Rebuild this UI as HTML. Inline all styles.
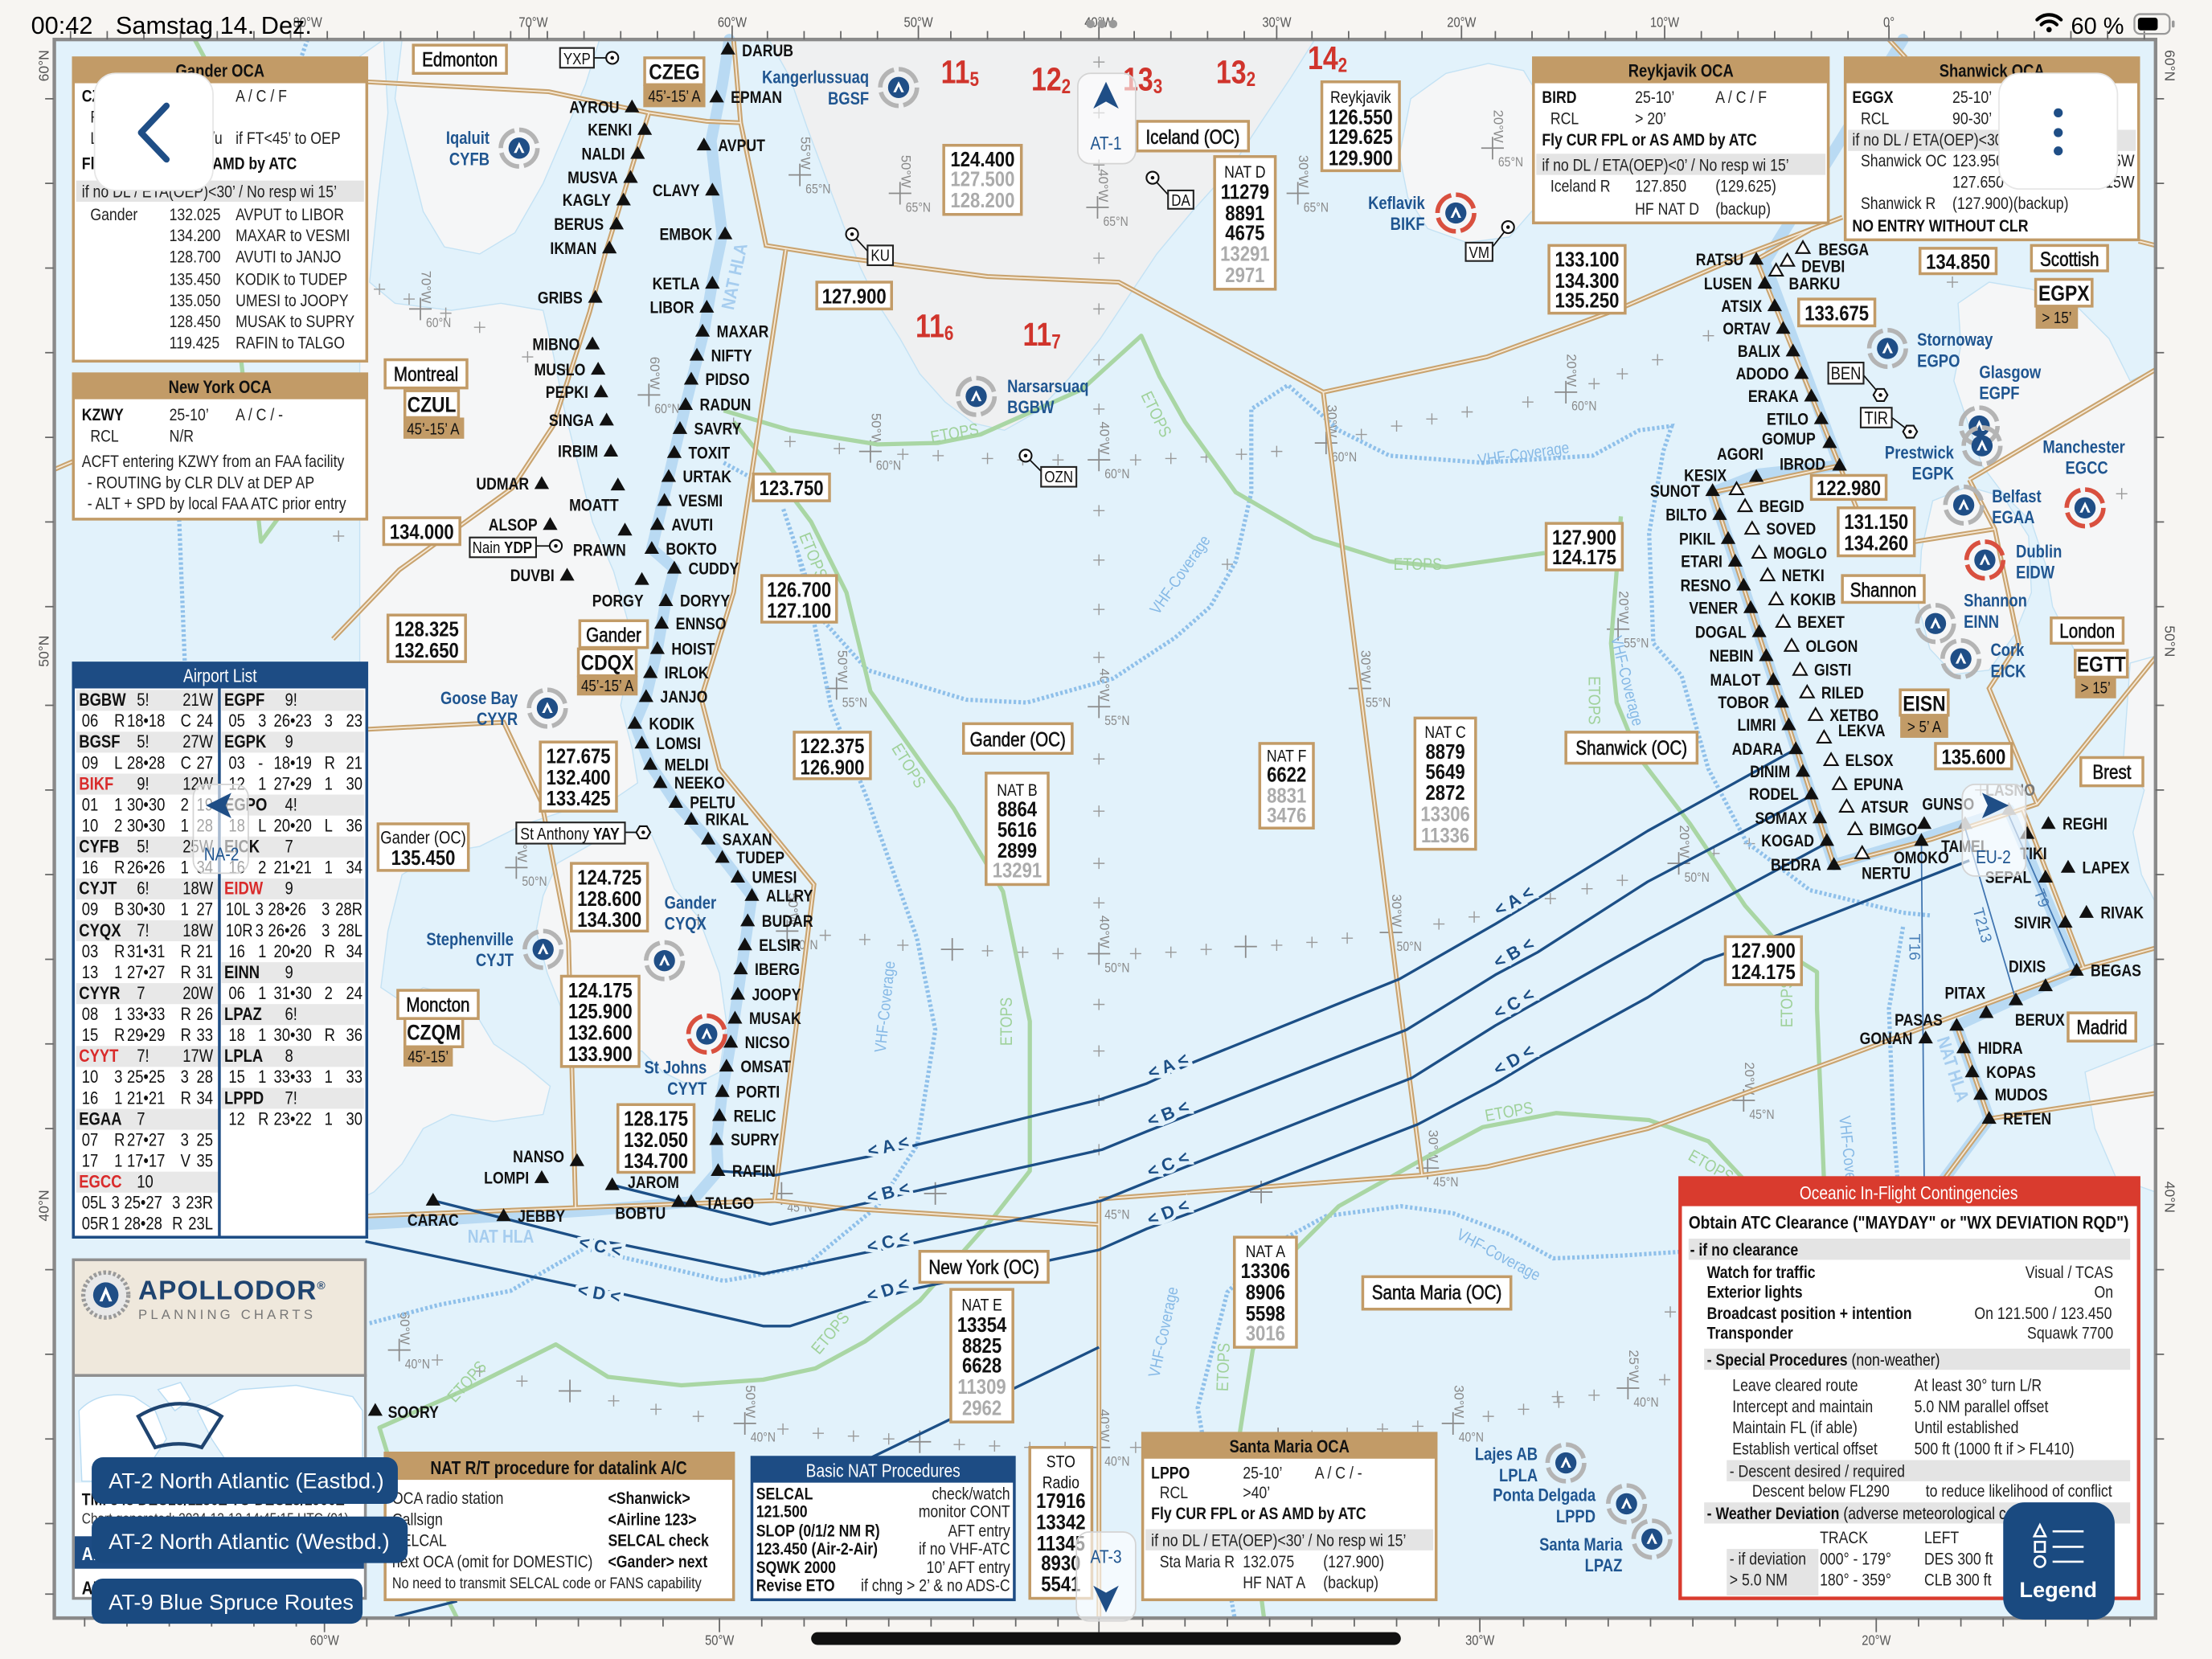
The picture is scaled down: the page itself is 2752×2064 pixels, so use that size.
<!DOCTYPE html>
<html><head><meta charset="utf-8">
<style>
html,body{margin:0;padding:0;background:#f7f5f2;width:2752px;height:2064px;overflow:hidden}
svg{display:block;fill:#111}
text{font-family:"Liberation Sans",sans-serif;transform-box:fill-box;transform-origin:0 50%}
text:not([transform]):not(.ns){transform:scaleX(.84)}
.we text,.ape text,text.ale,text.pe{transform-origin:100% 50%}
.wm text,.ax text,text.f,text.fg,text.nm,text.nl,text.big,text.tt,text.hd,text.ovt,text[style*="middle"]{transform-origin:50% 50%}
.w{font-weight:bold;font-size:12px}
.we{font-weight:bold;font-size:12px;text-anchor:end}
.wm{font-weight:bold;font-size:12px;text-anchor:middle}
.f{font-weight:bold;font-size:15px;text-anchor:middle}
.fg{font-weight:bold;font-size:15px;text-anchor:middle;fill:#ababab}
.nm{font-size:14px;text-anchor:middle;stroke:#111;stroke-width:.35}
.nl{font-size:12px;text-anchor:middle}
.big{font-weight:bold;font-size:15.5px;text-anchor:middle}
.tt{font-size:11.5px;text-anchor:middle}
.bx{fill:#fff;stroke:#c29b67;stroke-width:2}
.bk{fill:#fff;stroke:#222;stroke-width:1.2}
.tn{fill:#c29b67}
.ap{font-weight:bold;font-size:12.5px;fill:#1f5590}
.ape{font-weight:bold;font-size:12.5px;fill:#1f5590;text-anchor:end}
.rd{font-weight:bold;font-size:23px;fill:#d0342c}
.p{font-size:12px;fill:#222}
.pb{font-size:12px;font-weight:bold}
.pe{font-size:12px;fill:#222;text-anchor:end}
.hd{font-size:12.5px;font-weight:bold;text-anchor:middle}
.trk{fill:none;stroke:#1c4f86;stroke-width:1.9;stroke-linejoin:round}
.vhf{fill:none;stroke:#8fc0ea;stroke-width:3;stroke-dasharray:1.8 1.6}
.eto{fill:none;stroke:#a9d6a4;stroke-width:3;stroke-linejoin:round}
.hla{fill:none;stroke:#b9daf3;stroke-width:8;stroke-linejoin:round;stroke-linecap:round}
.tl{font-size:12.5px;font-weight:bold;fill:#1c4f86;text-anchor:middle;dominant-baseline:central;paint-order:stroke;stroke:#e2f2fb;stroke-width:5px}
.vl{font-size:11.5px;fill:#86b9e6;text-anchor:middle}
.el{font-size:12px;fill:#9fd19a;text-anchor:middle}
.gl{font-size:9.5px;fill:#8a8a8a}
.al{font-size:12.5px;fill:#111}
.alb{font-size:12.5px;font-weight:bold}
.ale{font-size:12.5px;text-anchor:end}
.ov{fill:#fff;fill-opacity:.62;stroke:#d4d4d4;stroke-width:1}
.ovt{font-size:13px;fill:#1f5590;text-anchor:middle}
.btn{fill:#1a4a80}
.btt{font-size:15.5px;fill:#fff}
.ax{font-size:10px;fill:#555;text-anchor:middle}
</style></head><body>
<svg xmlns="http://www.w3.org/2000/svg" width="2752" height="2064" viewBox="0 0 1568 1176">
<defs>
<path id="t" d="M0,-5.5L5.2,3.6H-5.2Z" fill="#111"/>
<path id="tg" d="M0,-5.5L5.2,3.6H-5.2Z" fill="#8c8c8c"/>
<path id="to" d="M0,-5L4.8,3.4H-4.8Z" fill="#fff" stroke="#111" stroke-width="1.2"/>
<g id="ag"><circle r="13" fill="none" stroke="#b4b4b4" stroke-width="3.2" stroke-dasharray="17 3.4"/><circle r="7.5" fill="#1f4e86"/><path d="M-3.8,3.4L0,-4.4L3.8,3.4L1.9,3.4L0,-0.8L-1.9,3.4Z" fill="#fff"/></g>
<g id="ar"><circle r="13" fill="none" stroke="#d9503f" stroke-width="3.2" stroke-dasharray="17 3.4"/><circle r="7.5" fill="#1f4e86"/><path d="M-3.8,3.4L0,-4.4L3.8,3.4L1.9,3.4L0,-0.8L-1.9,3.4Z" fill="#fff"/></g>
<g id="nv"><circle r="4.3" fill="#fff" stroke="#111" stroke-width="1.2"/><circle r="1.3" fill="#111"/></g>
<g id="hx"><path d="M-5,0L-2.5,-4.3H2.5L5,0L2.5,4.3H-2.5Z" fill="#fff" stroke="#111" stroke-width="1.2"/><circle r="1.3" fill="#111"/></g>
<g id="fir">
<path d="M260,58L389,65L460,80L501,86L525,87"/>
<path d="M520,28L525,87L543,174L600,183L700,196L793,200L938,278L1054,253L1150,218L1238,180L1306,154"/>
<path d="M557,177L520,420L497,495L510,545L577,627L549,851"/>
<path d="M236,453L283,404L363,346L392,302L418,221L429,180L445,128L460,80"/>
<path d="M260,517L357,512L384,569L403,667L408,856"/>
<path d="M260,862L410,856L549,851L592,856L779,868"/>
<path d="M779,850L779,1147"/>
<path d="M779,850L1008,833L1054,827L1168,800L1300,752L1477,686L1528,672"/>
<path d="M938,278L955,416L990,694L1008,833"/>
<path d="M1245,184L1283,163"/>
<path d="M1245,184L1304,330L1316,360"/>
<path d="M1214,349L1304,330"/>
<path d="M1214,349L1300,613L1369,595L1444,570L1528,466"/>
<path d="M1357,384L1414,375"/>
<path d="M1396,340L1414,375L1431,456L1410,488L1444,570"/>
<path d="M1396,340L1528,262"/>
<path d="M1434,574L1477,686"/>
<path d="M1387,727L1410,793L1528,775"/>
<path d="M1410,793L1375,840"/>
<path d="M1339,28L1351,41"/>
<path d="M1516,171L1528,174"/>
<path d="M38,333L52,327"/>
</g>
</defs>

<!-- background -->
<rect x="0" y="0" width="1568" height="1176" fill="#f7f5f2"/>
<rect x="38.5" y="28" width="1489.5" height="1119" fill="#e2f2fb"/>

<!-- land -->
<g fill="#f5f6f7" stroke="#c4e2f4" stroke-width="0.8">
<path d="M285,28L425,28L415,60L400,95L385,130L365,165L340,180L315,175L300,150L290,110L280,70Z"/>
<path d="M255,40L272,28L275,80L268,140L262,200L280,215L320,220L355,215L385,220L392,250L400,290L410,330L420,370L435,405L445,440L446,470L440,500L448,530L452,555L430,570L400,575L370,585L340,600L310,605L285,620L275,660L270,700L285,710L300,700L320,705L338,720L350,740L372,755L390,770L385,790L350,795L320,790L300,800L285,825L265,845L255,850Z"/>
<path d="M395,612L420,598L445,590L462,592L470,610L478,630L495,650L510,690L515,725L510,760L490,770L470,760L455,745L430,745L415,735L398,715L388,690L380,660L385,635Z"/>
<path d="M545,28L932,28L915,55L895,85L872,120L845,150L820,180L800,210L780,240L758,268L735,292L712,305L690,300L670,285L652,265L638,240L622,215L610,190L598,160L585,125L572,90L560,55Z" fill="#eff0f1"/>
<path d="M1000,70L1025,52L1055,45L1080,50L1095,75L1098,110L1090,145L1070,168L1040,172L1012,162L998,140L992,110Z"/>
<path d="M1388,215L1410,200L1440,205L1470,215L1495,240L1510,270L1528,262L1528,470L1500,475L1470,460L1455,430L1450,400L1440,370L1420,350L1405,330L1395,300L1385,270L1390,245Z"/>
<path d="M1370,355L1395,345L1420,352L1438,380L1440,420L1428,450L1410,475L1385,478L1368,460L1360,430L1362,390Z"/>
<path d="M1510,470L1528,465L1528,640L1518,620L1512,590L1520,560L1505,540Z"/>
<path d="M1478,760L1528,740L1528,845L1500,835L1485,800Z"/>
</g>

<!-- grid crosses -->
<path stroke="#9a9a9a" stroke-width="0.8" fill="none" d="M265,205h8M269,201v8M286,212h8M290,208v8M312,222h8M316,218v8M336,232h8M340,228v8M370,253h8M374,249v8M396,262h8M400,258v8M516,300h8M520,296v8M556,313h8M560,309v8M591,318h8M595,314v8M636,322h8M640,318v8M661,323h8M665,319v8M696,325h8M700,321v8M721,326h8M725,322v8M746,326h8M750,322v8M801,326h8M805,322v8M826,325h8M830,321v8M851,324h8M855,320v8M876,322h8M880,318v8M901,320h8M905,316v8M961,308h8M965,304v8M986,302h8M990,298v8M1011,297h8M1015,293v8M1036,292h8M1040,288v8M1079,285h8M1083,281v8M1126,272h8M1130,268v8M1146,265h8M1150,261v8M1171,255h8M1175,251v8M1207,238h8M1211,234v8M406,628h8M410,624v8M446,640h8M450,636v8M491,652h8M495,648v8M581,663h8M585,659v8M609,666h8M613,662v8M636,670h8M640,666v8M696,674h8M700,670v8M721,675h8M725,671v8M746,676h8M750,672v8M801,676h8M805,672v8M826,675h8M830,671v8M851,673h8M855,669v8M901,670h8M905,666v8M926,668h8M930,664v8M951,665h8M955,661v8M1016,655h8M1020,651v8M1041,650h8M1045,646v8M1066,644h8M1070,640v8M1095,637h8M1099,633v8M1121,630h8M1125,626v8M1146,624h8M1150,620v8M1211,605h8M1215,601v8M1236,598h8M1240,594v8M306,964h8M310,960v8M336,972h8M340,968v8M366,979h8M370,975v8M431,993h8M435,989v8M461,999h8M465,995v8M491,1004h8M495,1000v8M551,1013h8M555,1009v8M576,1016h8M580,1012v8M601,1018h8M605,1014v8M626,1020h8M630,1016v8M676,1024h8M680,1020v8M701,1025h8M705,1021v8M726,1026h8M730,1022v8M751,1026h8M755,1022v8M801,1026h8M805,1022v8M826,1025h8M830,1021v8M851,1024h8M855,1020v8M876,1022h8M880,1018v8M926,1018h8M930,1014v8M951,1016h8M955,1012v8M976,1013h8M980,1009v8M1001,1011h8M1005,1007v8M1051,1004h8M1055,1000v8M1076,999h8M1080,995v8M1101,994h8M1105,990v8M1126,989h8M1130,985v8M1176,978h8M1180,974v8M1201,971h8M1205,967v8M1226,964h8M1230,960v8M1251,957h8M1255,953v8M775,44h8M779,40v8M775,80h8M779,76v8M775,117h8M779,113v8M775,183h8M779,179v8M775,219h8M779,215v8M775,255h8M779,251v8M775,290h8M779,286v8M775,362h8M779,358v8M775,397h8M779,393v8M775,432h8M779,428v8M775,466h8M779,462v8M775,538h8M779,534v8M775,575h8M779,571v8M775,612h8M779,608v8M775,640h8M779,636v8M775,712h8M779,708v8M775,745h8M779,741v8M775,780h8M779,776v8M775,815h8M779,811v8M866,400h8M870,396v8M236,380h8M240,376v8M1270,250h8M1274,246v8M1380,200h8M1384,196v8M1500,350h8M1504,346v8M1480,550h8M1484,546v8M1400,560h8M1404,556v8M1100,990h8M1104,986v8M1200,1100h8M1204,1096v8M1180,930h8M1184,926v8"/>
<path stroke="#8a8a8a" stroke-width="1" fill="none" d="M559,124h16M567,116v16M630,137h16M638,129v16M770,147h16M778,139v16M912,137h16M920,129v16M1050,105h16M1058,97v16M452,280h16M460,272v16M609,320h16M617,312v16M771,326h16M779,318v16M932,314h16M940,306v16M1102,278h16M1110,270v16M585,488h16M593,480v16M771,501h16M779,493v16M956,488h16M964,480v16M1139,446h16M1147,438v16M358,615h16M366,607v16M550,660h16M558,652v16M667,673h16M675,665v16M771,676h16M779,668v16M875,671h16M883,663v16M978,661h16M986,653v16M1182,612h16M1190,604v16M546,846h16M554,838v16M655,846h16M663,838v16M886,845h16M894,837v16M1004,828h16M1012,820v16M1228,780h16M1236,772v16M275,957h16M283,949v16M396,986h16M404,978v16M520,1009h16M528,1001v16M644,1022h16M652,1014v16M771,1026h16M779,1018v16M898,1020h16M906,1012v16M1022,1009h16M1030,1001v16M1146,984h16M1154,976v16M290,219h16M298,211v16"/>
<g class="gl">
<text x="571" y="137">65°N</text><text transform="translate(571,100) rotate(90)">55°W</text>
<text x="642" y="150">65°N</text><text transform="translate(642,113) rotate(90)">50°W</text>
<text x="782" y="160">65°N</text><text transform="translate(782,123) rotate(90)">40°W</text>
<text x="924" y="150">65°N</text><text transform="translate(924,113) rotate(90)">30°W</text>
<text x="1062" y="118">65°N</text><text transform="translate(1062,81) rotate(90)">20°W</text>
<text x="464" y="293">60°N</text><text transform="translate(464,256) rotate(90)">60°W</text>
<text x="621" y="333">60°N</text><text transform="translate(621,296) rotate(90)">50°W</text>
<text x="783" y="339">60°N</text><text transform="translate(783,302) rotate(90)">40°W</text>
<text x="944" y="327">60°N</text><text transform="translate(944,290) rotate(90)">30°W</text>
<text x="1114" y="291">60°N</text><text transform="translate(1114,254) rotate(90)">20°W</text>
<text x="597" y="501">55°N</text><text transform="translate(597,464) rotate(90)">50°W</text>
<text x="783" y="514">55°N</text><text transform="translate(783,477) rotate(90)">40°W</text>
<text x="968" y="501">55°N</text><text transform="translate(968,464) rotate(90)">30°W</text>
<text x="1151" y="459">55°N</text><text transform="translate(1151,422) rotate(90)">20°W</text>
<text x="370" y="628">50°N</text><text transform="translate(370,591) rotate(90)">60°W</text>
<text x="562" y="673">50°N</text><text transform="translate(562,636) rotate(90)">50°W</text>
<text x="783" y="689">50°N</text><text transform="translate(783,652) rotate(90)">40°W</text>
<text x="990" y="674">50°N</text><text transform="translate(990,637) rotate(90)">30°W</text>
<text x="1194" y="625">50°N</text><text transform="translate(1194,588) rotate(90)">20°W</text>
<text x="558" y="859">45°N</text><text x="783" y="864">45°N</text>
<text x="1016" y="841">45°N</text><text transform="translate(1016,804) rotate(90)">30°W</text>
<text x="1240" y="793">45°N</text><text transform="translate(1240,756) rotate(90)">20°W</text>
<text x="287" y="970">40°N</text><text transform="translate(287,933) rotate(90)">60°W</text>
<text x="532" y="1022">40°N</text><text transform="translate(532,985) rotate(90)">50°W</text>
<text x="783" y="1039">40°N</text><text transform="translate(783,1002) rotate(90)">40°W</text>
<text x="1034" y="1022">40°N</text><text transform="translate(1034,985) rotate(90)">30°W</text>
<text x="1158" y="997">40°N</text><text transform="translate(1158,960) rotate(90)">25°W</text>
<text x="302" y="232">60°N</text><text transform="translate(302,195) rotate(90)">70°W</text>
</g>

<!-- coverage / etops -->
<path class="vhf" d="M127,368L131,470M218,28L212,45M262,938L311,925L362,915L414,885L449,893L513,908L570,898L622,855L650,812L663,730L650,665L615,567L589,501L576,436L565,390L555,360M565,390L580,436L615,475L685,496L728,498L789,481L833,452L858,430L876,398L887,349L887,290L913,273L949,305L985,323L1051,328L1129,323L1162,305L1185,302L1179,320L1169,378L1172,456L1192,479L1211,545L1238,597L1283,631L1349,647L1369,649M1349,657L1339,715L1342,793L1345,835M875,1146L849,998L870,916L905,881L940,862L993,855L1030,860L1070,875L1101,892L1150,890L1197,887M513,328L535,340"/>
<path class="eto" d="M520,299L545,330L575,370L600,420L617,490L676,573L711,632L730,724L730,830L705,862L652,922L613,951L578,970L541,978L483,982L431,976L394,953L330,985L269,1012L290,1080L324,1147M513,291L560,305L622,315L665,314L695,308L767,276L809,238L822,267L840,299L876,349L931,381L985,398L1025,402L1095,392M1149,366L1142,456L1146,498L1162,537L1198,584L1237,642L1267,676L1288,689L1288,715L1293,838M896,1147L879,1015L888,957L918,886L949,855L1008,822L1051,799L1103,789L1169,794L1211,809L1237,837M171,256L185,384L204,358M138,28L145,41"/>
<g class="vl">
<text transform="translate(856,438) rotate(-55) scale(.85,1)">VHF-Coverage</text>
<text transform="translate(662,750) rotate(-84) scale(.85,1)">VHF-Coverage</text>
<text transform="translate(1086,330) rotate(-8) scale(.85,1)">VHF-Coverage</text>
<text transform="translate(1184,455) rotate(76) scale(.85,1)">VHF-Coverage</text>
<text transform="translate(1346,795) rotate(84) scale(.85,1)">VHF-Coverage</text>
<text transform="translate(856,980) rotate(-78) scale(.85,1)">VHF-Coverage</text>
<text transform="translate(1072,878) rotate(28) scale(.85,1)">VHF-Coverage</text>
</g>
<g class="el">
<text transform="translate(680,314) rotate(-10) scale(.85,1)">ETOPS</text>
<text transform="translate(832,282) rotate(64) scale(.85,1)">ETOPS</text>
<text transform="translate(590,382) rotate(68) scale(.85,1)">ETOPS</text>
<text transform="translate(655,532) rotate(58) scale(.85,1)">ETOPS</text>
<text transform="translate(734,745) rotate(-90) scale(.85,1)">ETOPS</text>
<text transform="translate(1008,404) scale(.85,1)">ETOPS</text>
<text transform="translate(1150,483) rotate(90) scale(.85,1)">ETOPS</text>
<text transform="translate(1073,795) rotate(-10) scale(.85,1)">ETOPS</text>
<text transform="translate(1287,732) rotate(-90) scale(.85,1)">ETOPS</text>
<text transform="translate(1218,822) rotate(30) scale(.85,1)">ETOPS</text>
<text transform="translate(598,962) rotate(-50) scale(.85,1)">ETOPS</text>
<text transform="translate(887,990) rotate(-88) scale(.85,1)">ETOPS</text>
<text transform="translate(340,996) rotate(-48) scale(.85,1)">ETOPS</text>
</g>

<!-- NAT HLA bands -->
<path class="hla" d="M517,28L512,60L504,100L508,135L512,166L505,200L499,235L486,287L474,338L466,372L462,389L478,403L472,426L466,460L458,494L450,513L461,542L479,569L502,595L523,622L533,635L528,670L523,705L518,739L512,774L508,808L509,830L490,852L420,858L357,862L259,868"/>
<path class="hla" d="M1349,28L1251,186L1304,330L1247,336L1214,349L1300,613L1364,594L1424,574L1472,688L1387,727L1410,793L1375,840"/>
<text transform="translate(521,200) rotate(-78) scale(.85,1)" style="font-size:13px;font-weight:bold;fill:#a6cdef;text-anchor:middle">NAT HLA</text>
<text x="355" y="881" style="font-size:13px;font-weight:bold;fill:#a6cdef;text-anchor:middle">NAT HLA</text>
<text transform="translate(1384,762) rotate(72) scale(.85,1)" style="font-size:13px;font-weight:bold;fill:#a6cdef;text-anchor:middle">NAT HLA</text>

<!-- FIR -->
<use href="#fir" fill="none" stroke="#c9a36f" stroke-width="3.4"/>
<use href="#fir" fill="none" stroke="#f5ead9" stroke-width="1"/>

<!-- T routes -->
<path d="M1362,595L1364,838M1393,587L1429,709M1424,578L1472,688" stroke="#3f74b0" stroke-width="1" fill="none"/>
<g style="font-size:11px;fill:#4a80b8;text-anchor:middle">
<text transform="translate(1366,665) rotate(90)">T16</text>
<text transform="translate(1414,647) rotate(75)">T213</text>
<text transform="translate(1451,634) rotate(70)">T9</text>
</g>

<!-- tracks -->
<path class="trk" d="M509,830L550,833L615,820L648,812L781,779L813,768L846,753L992,694L1060,655L1090,637L1168,589L1273,531"/>
<path class="trk" d="M434,840L546,868L613,853L646,845L781,815L813,802L846,789L997,730L1060,691L1090,675L1168,625L1284,564"/>
<path class="trk" d="M307,851L414,878L440,882L541,903L613,888L648,881L781,851L813,838L846,825L1001,764L1060,727L1090,710L1168,666L1296,597"/>
<path class="trk" d="M259,880L410,912L440,917L541,940L560,940L613,923L646,914L779,886L813,871L846,859L1005,797L1060,768L1090,750L1168,707L1208,681L1260,663L1396,610"/>
<path class="trk" d="M618,1033L779,955"/>
<path class="trk" d="M280,1146L324,1135"/>
<text class="tl" transform="translate(630,816) rotate(-14)">&lt; A &lt;</text>
<text class="tl" transform="translate(829,761) rotate(-22)">&lt; A &lt;</text>
<text class="tl" transform="translate(1075,646) rotate(-30)">&lt; A &lt;</text>
<text class="tl" transform="translate(630,849) rotate(-14)">&lt; B &lt;</text>
<text class="tl" transform="translate(829,795) rotate(-22)">&lt; B &lt;</text>
<text class="tl" transform="translate(1075,683) rotate(-30)">&lt; B &lt;</text>
<text class="tl" transform="translate(426,880) rotate(13)">&lt; C &lt;</text>
<text class="tl" transform="translate(630,884) rotate(-14)">&lt; C &lt;</text>
<text class="tl" transform="translate(829,831) rotate(-22)">&lt; C &lt;</text>
<text class="tl" transform="translate(1075,719) rotate(-30)">&lt; C &lt;</text>
<text class="tl" transform="translate(425,914) rotate(10)">&lt; D &lt;</text>
<text class="tl" transform="translate(630,919) rotate(-18)">&lt; D &lt;</text>
<text class="tl" transform="translate(829,865) rotate(-22)">&lt; D &lt;</text>
<text class="tl" transform="translate(1075,759) rotate(-30)">&lt; D &lt;</text>

<!-- waypoints west -->
<g>
<use href="#t" x="448" y="76"/><use href="#t" x="457" y="92"/><use href="#t" x="452" y="109"/><use href="#t" x="447" y="126"/><use href="#t" x="442" y="142"/><use href="#t" x="437" y="159"/><use href="#t" x="432" y="176"/><use href="#t" x="422" y="211"/><use href="#t" x="420" y="244"/><use href="#t" x="424" y="262"/><use href="#t" x="426" y="278"/><use href="#t" x="430" y="298"/><use href="#t" x="433" y="320"/><use href="#t" x="384" y="343"/><use href="#t" x="390" y="372"/><use href="#t" x="402" y="408"/><use href="#t" x="505" y="135"/><use href="#t" x="514" y="166"/><use href="#t" x="505" y="201"/><use href="#t" x="501" y="218"/><use href="#t" x="409" y="823"/><use href="#t" x="384" y="835"/><use href="#t" x="438" y="344"/><use href="#t" x="443" y="376"/><use href="#t" x="455" y="411"/>
<use href="#t" x="516" y="35"/><use href="#t" x="508" y="69"/><use href="#t" x="499" y="103"/><use href="#t" x="498" y="235"/><use href="#t" x="494" y="252"/><use href="#t" x="490" y="269"/><use href="#t" x="486" y="287"/><use href="#t" x="482" y="304"/><use href="#t" x="478" y="321"/><use href="#t" x="474" y="338"/><use href="#t" x="471" y="355"/><use href="#t" x="466" y="372"/><use href="#t" x="462" y="389"/><use href="#t" x="478" y="403"/><use href="#t" x="472" y="426"/><use href="#t" x="469" y="442"/><use href="#t" x="466" y="460"/><use href="#t" x="461" y="477"/><use href="#t" x="458" y="494"/><use href="#t" x="450" y="513"/><use href="#t" x="455" y="527"/><use href="#t" x="461" y="542"/><use href="#t" x="468" y="555"/><use href="#t" x="479" y="569"/><use href="#t" x="490" y="581"/><use href="#t" x="502" y="595"/><use href="#t" x="512" y="608"/><use href="#t" x="523" y="622"/><use href="#t" x="533" y="635"/><use href="#t" x="530" y="653"/><use href="#t" x="528" y="670"/><use href="#t" x="525" y="687"/><use href="#t" x="523" y="705"/><use href="#t" x="521" y="722"/><use href="#t" x="518" y="739"/><use href="#t" x="515" y="756"/><use href="#t" x="512" y="774"/><use href="#t" x="510" y="791"/><use href="#t" x="508" y="808"/><use href="#t" x="509" y="830"/><use href="#t" x="434" y="840"/><use href="#t" x="357" y="862"/><use href="#t" x="481" y="852"/><use href="#t" x="490" y="852"/><use href="#t" x="266" y="1000"/><use href="#t" x="307" y="851"/>
</g>
<g class="we">
<text x="439" y="80">AYROU</text><text x="448" y="96">KENKI</text><text x="443" y="113">NALDI</text><text x="438" y="130">MUSVA</text><text x="433" y="146">KAGLY</text><text x="428" y="163">BERUS</text><text x="423" y="180">IKMAN</text><text x="413" y="215">GRIBS</text><text x="411" y="248">MIBNO</text><text x="415" y="266">MUSLO</text><text x="417" y="282">PEPKI</text><text x="421" y="302">SINGA</text><text x="424" y="324">IRBIM</text><text x="375" y="347">UDMAR</text><text x="381" y="376">ALSOP</text><text x="393" y="412">DUVBI</text><text x="496" y="139">CLAVY</text><text x="505" y="170">EMBOK</text><text x="496" y="205">KETLA</text><text x="492" y="222">LIBOR</text><text x="400" y="824">NANSO</text><text x="375" y="839">LOMPI</text>
</g>
<g class="w">
<text x="526" y="40">DARUB</text><text x="518" y="73">EPMAN</text><text x="509" y="107">AVPUT</text><text x="508" y="239">MAXAR</text><text x="504" y="256">NIFTY</text><text x="500" y="273">PIDSO</text><text x="496" y="291">RADUN</text><text x="492" y="308">SAVRY</text><text x="488" y="325">TOXIT</text><text x="484" y="342">URTAK</text><text x="481" y="359">VESMI</text><text x="476" y="376">AVUTI</text><text x="472" y="393">BOKTO</text><text x="488" y="407">CUDDY</text><text x="482" y="430">DORYY</text><text x="479" y="446">ENNSO</text><text x="476" y="464">HOIST</text><text x="471" y="481">IRLOK</text><text x="468" y="498">JANJO</text><text x="460" y="517">KODIK</text><text x="465" y="531">LOMSI</text><text x="471" y="546">MELDI</text><text x="478" y="559">NEEKO</text><text x="489" y="573">PELTU</text><text x="500" y="585">RIKAL</text><text x="512" y="599">SAXAN</text><text x="522" y="612">TUDEP</text><text x="533" y="626">UMESI</text><text x="543" y="639">ALLRY</text><text x="540" y="657">BUDAR</text><text x="538" y="674">ELSIR</text><text x="535" y="691">IBERG</text><text x="533" y="709">JOOPY</text><text x="531" y="726">MUSAK</text><text x="528" y="743">NICSO</text><text x="525" y="760">OMSAT</text><text x="522" y="778">PORTI</text><text x="520" y="795">RELIC</text><text x="518" y="812">SUPRY</text><text x="519" y="834">RAFIN</text><text x="445" y="842">JAROM</text><text x="367" y="866">JEBBY</text><text x="500" y="857">TALGO</text><text x="275" y="1005">SOORY</text>
</g>
<g class="wm">
<text x="421" y="362">MOATT</text><text x="425" y="394">PRAWN</text><text x="438" y="430">PORGY</text><text x="307" y="869">CARAC</text><text x="454" y="864">BOBTU</text>
</g>

<!-- waypoints east -->
<g>
<use href="#t" x="1245" y="184"/><use href="#t" x="1251" y="201"/><use href="#t" x="1258" y="217"/><use href="#t" x="1264" y="233"/><use href="#t" x="1271" y="249"/><use href="#t" x="1277" y="265"/><use href="#t" x="1284" y="281"/><use href="#t" x="1291" y="297"/><use href="#t" x="1297" y="314"/><use href="#t" x="1304" y="330"/><use href="#t" x="1245" y="338"/><use href="#t" x="1214" y="348"/><use href="#t" x="1219" y="365"/><use href="#t" x="1225" y="382"/><use href="#t" x="1230" y="398"/><use href="#t" x="1236" y="415"/><use href="#t" x="1241" y="431"/><use href="#t" x="1247" y="448"/><use href="#t" x="1252" y="465"/><use href="#t" x="1257" y="482"/><use href="#t" x="1263" y="498"/><use href="#t" x="1268" y="514"/><use href="#t" x="1273" y="531"/><use href="#t" x="1278" y="547"/><use href="#t" x="1284" y="563"/><use href="#t" x="1290" y="580"/><use href="#t" x="1295" y="596"/><use href="#t" x="1300" y="613"/><use href="#t" x="1450" y="622"/><use href="#t" x="1464" y="654"/><use href="#t" x="1452" y="584"/><use href="#t" x="1466" y="615"/><use href="#t" x="1479" y="647"/><use href="#t" x="1472" y="688"/><use href="#t" x="1392" y="743"/><use href="#t" x="1398" y="760"/><use href="#t" x="1404" y="776"/><use href="#t" x="1410" y="793"/><use href="#t" x="1364" y="584"/><use href="#t" x="1362" y="596"/><use href="#t" x="1437" y="591"/><use href="#t" x="1450" y="699"/><use href="#t" x="1429" y="709"/><use href="#t" x="1408" y="718"/><use href="#t" x="1387" y="727"/><use href="#t" x="1365" y="736"/>
<use href="#tg" x="1393" y="584"/><use href="#tg" x="1424" y="574"/>
<use href="#to" x="1278" y="176"/><use href="#to" x="1267" y="185"/><use href="#to" x="1259" y="192"/><use href="#to" x="1231" y="347"/><use href="#to" x="1237" y="359"/><use href="#to" x="1242" y="375"/><use href="#to" x="1247" y="392"/><use href="#to" x="1253" y="408"/><use href="#to" x="1259" y="425"/><use href="#to" x="1264" y="441"/><use href="#to" x="1270" y="458"/><use href="#to" x="1276" y="475"/><use href="#to" x="1281" y="491"/><use href="#to" x="1287" y="507"/><use href="#to" x="1293" y="523"/><use href="#to" x="1298" y="539"/><use href="#to" x="1304" y="556"/><use href="#to" x="1309" y="572"/><use href="#to" x="1315" y="588"/><use href="#to" x="1320" y="605"/>
</g>
<g class="we">
<text x="1236" y="188">RATSU</text><text x="1242" y="205">LUSEN</text><text x="1249" y="221">ATSIX</text><text x="1255" y="237">ORTAV</text><text x="1262" y="253">BALIX</text><text x="1268" y="269">ADODO</text><text x="1275" y="285">ERAKA</text><text x="1282" y="301">ETILO</text><text x="1287" y="315">GOMUP</text><text x="1294" y="333">IBROD</text><text x="1224" y="341">KESIX</text><text x="1205" y="352">SUNOT</text><text x="1210" y="369">BILTO</text><text x="1216" y="386">PIKIL</text><text x="1221" y="402">ETARI</text><text x="1227" y="419">RESNO</text><text x="1232" y="435">VENER</text><text x="1238" y="452">DOGAL</text><text x="1243" y="469">NEBIN</text><text x="1248" y="486">MALOT</text><text x="1254" y="502">TOBOR</text><text x="1259" y="518">LIMRI</text><text x="1264" y="535">ADARA</text><text x="1269" y="551">DINIM</text><text x="1275" y="567">RODEL</text><text x="1281" y="584">SOMAX</text><text x="1286" y="600">KOGAD</text><text x="1291" y="617">BEDRA</text><text x="1440" y="626">SEPAL</text><text x="1454" y="658">SIVIR</text>
</g>
<g class="w">
<text x="1217" y="326">AGORI</text>
<text x="1462" y="588">REGHI</text><text x="1476" y="619">LAPEX</text><text x="1489" y="651">RIVAK</text><text x="1482" y="692">BEGAS</text><text x="1402" y="747">HIDRA</text><text x="1408" y="764">KOPAS</text><text x="1414" y="780">MUDOS</text><text x="1420" y="797">RETEN</text><text x="1432" y="609">TIKI</text>
<text x="1289" y="181">BESGA</text><text x="1277" y="193">DEVBI</text><text x="1268" y="205">BARKU</text><text x="1247" y="363">BEGID</text><text x="1252" y="379">SOVED</text><text x="1257" y="396">MOGLO</text><text x="1263" y="412">NETKI</text><text x="1269" y="429">KOKIB</text><text x="1274" y="445">BEXET</text><text x="1280" y="462">OLGON</text><text x="1286" y="479">GISTI</text><text x="1291" y="495">RILED</text><text x="1297" y="511">XETBO</text><text x="1303" y="522">LEKVA</text><text x="1308" y="543">ELSOX</text><text x="1314" y="560">EPUNA</text><text x="1319" y="576">ATSUR</text><text x="1325" y="592">BIMGO</text>
</g>
<g class="wm">
<text x="1381" y="574">GUNSO</text><text x="1362" y="612">OMOKO</text><text x="1393" y="604">TAMEL</text><text x="1425" y="564" style="fill:#777">LASNO</text><text x="1437" y="689">DIXIS</text><text x="1393" y="708">PITAX</text><text x="1446" y="727">BERUX</text><text x="1360" y="727">PASAS</text><text x="1337" y="740">GONAN</text><text x="1337" y="623">NERTU</text>
</g>

<!-- airports -->
<use href="#ag" x="637" y="62"/><use href="#ag" x="368" y="105"/><use href="#ag" x="692" y="281"/><use href="#ar" x="1032" y="151"/><use href="#ag" x="388" y="502"/><use href="#ag" x="385" y="673"/><use href="#ag" x="471" y="681"/><use href="#ar" x="501" y="733"/><use href="#ag" x="1110" y="1037"/><use href="#ag" x="1153" y="1066"/><use href="#ag" x="1171" y="1091"/><use href="#ag" x="1338" y="247"/><use href="#ag" x="1403" y="302"/><use href="#ag" x="1405" y="316"/><use href="#ag" x="1392" y="358"/><use href="#ar" x="1478" y="360"/><use href="#ar" x="1407" y="397"/><use href="#ag" x="1372" y="442"/><use href="#ag" x="1390" y="467"/>
<g class="ape">
<text x="616" y="59">Kangerlussuaq</text><text x="616" y="74">BGSF</text>
<text x="347" y="102">Iqaluit</text><text x="347" y="117">CYFB</text>
<text x="1010" y="148">Keflavik</text><text x="1010" y="163">BIKF</text>
<text x="367" y="499">Goose Bay</text><text x="367" y="514">CYYR</text>
<text x="364" y="670">Stephenville</text><text x="364" y="685">CYJT</text>
<text x="501" y="761">St Johns</text><text x="501" y="776">CYYT</text>
<text x="1090" y="1035">Lajes AB</text><text x="1090" y="1050">LPLA</text>
<text x="1131" y="1064">Ponta Delgada</text><text x="1131" y="1079">LPPD</text>
<text x="1150" y="1099">Santa Maria</text><text x="1150" y="1114">LPAZ</text>
<text x="1385" y="325">Prestwick</text><text x="1385" y="340">EGPK</text>
</g>
<g class="ap">
<text x="714" y="278">Narsarsuaq</text><text x="714" y="293">BGBW</text>
<text x="471" y="644">Gander</text><text x="471" y="659">CYQX</text>
<text x="1359" y="245">Stornoway</text><text x="1359" y="260">EGPO</text>
<text x="1403" y="268">Glasgow</text><text x="1403" y="283">EGPF</text>
<text x="1448" y="321">Manchester</text><text x="1464" y="336">EGCC</text>
<text x="1412" y="356">Belfast</text><text x="1412" y="371">EGAA</text>
<text x="1429" y="395">Dublin</text><text x="1429" y="410">EIDW</text>
<text x="1392" y="430">Shannon</text><text x="1392" y="445">EINN</text>
<text x="1411" y="465">Cork</text><text x="1411" y="480">EICK</text>
</g>

<!-- red numbers -->
<g class="rd">
<text x="667" y="59">11<tspan font-size="14" dy="2">5</tspan></text>
<text x="731" y="64">12<tspan font-size="14" dy="2">2</tspan></text>
<text x="796" y="64">13<tspan font-size="14" dy="2">3</tspan></text>
<text x="862" y="59">13<tspan font-size="14" dy="2">2</tspan></text>
<text x="927" y="49">14<tspan font-size="14" dy="2">2</tspan></text>
<text x="649" y="239">11<tspan font-size="14" dy="2">6</tspan></text>
<text x="725" y="245">11<tspan font-size="14" dy="2">7</tspan></text>
</g>

<!-- navaid symbols -->
<path d="M421,41H430M380,387H390M604,166L615,178M817,126L828,138M1069,161L1058,175M727,323L738,334M443,590H451M1321,266L1333,280M1341,296L1354,306" stroke="#111" stroke-width="1" fill="none"/>
<use href="#nv" x="434" y="41"/><use href="#nv" x="394" y="387"/><use href="#nv" x="604" y="166"/><use href="#nv" x="817" y="126"/><use href="#nv" x="1069" y="161"/><use href="#nv" x="727" y="323"/>
<use href="#hx" x="456" y="590"/><use href="#hx" x="1333" y="280"/><use href="#hx" x="1354" y="306"/>

<!-- boxes -->
<rect class="bx" x="293" y="32" width="66" height="20"/><text class="nm" x="326" y="47">Edmonton</text>
<rect class="bk" x="397" y="34" width="24" height="14"/><text class="tt" x="409" y="45.5">YXP</text>
<rect class="bx" x="457" y="41" width="42" height="19"/><text class="big" x="478" y="56">CZEG</text>
<rect class="tn" x="456" y="60" width="44" height="16"/><text class="tt" x="478" y="72">45’-15’ A</text>
<rect class="bx" x="273" y="255" width="58" height="20"/><text class="nm" x="302" y="270">Montreal</text>
<rect class="bx" x="287" y="277" width="38" height="19"/><text class="big" x="306" y="292">CZUL</text>
<rect class="tn" x="286" y="296" width="43" height="15"/><text class="tt" x="307" y="308">45’-15’ A</text>
<rect class="bx" x="272" y="367" width="54" height="19"/><text class="f" x="299" y="382">134.000</text>
<rect class="bk" x="333" y="381" width="47" height="14"/><text class="tt" x="356" y="392">Nain <tspan font-weight="bold">YDP</tspan></text>
<rect class="bx" x="275" y="436" width="55" height="33"/><text class="f" x="302.5" y="451">128.325</text><text class="f" x="302.5" y="466">132.650</text>
<rect class="bx" x="411" y="440" width="48" height="19"/><text class="nm" x="435" y="455">Gander</text>
<rect class="bx" x="410" y="460" width="41" height="19"/><text class="big" x="430.5" y="475">CDQX</text>
<rect class="tn" x="409" y="479" width="43" height="14"/><text class="tt" x="430.5" y="490">45’-15’ A</text>
<rect class="bx" x="383" y="526" width="54" height="49"/><text class="f" x="410" y="541">127.675</text><text class="f" x="410" y="556">132.400</text><text class="f" x="410" y="571">133.425</text>
<rect class="bk" x="366" y="583" width="77" height="15"/><text x="404" y="595" style="font-size:12px;text-anchor:middle">St Anthony <tspan font-weight="bold">YAY</tspan></text>
<rect class="bx" x="268" y="584" width="64" height="33"/><text x="300" y="598" style="font-size:12.5px;text-anchor:middle">Gander (OC)</text><text class="f" x="300" y="613">135.450</text>
<rect class="bx" x="405" y="612" width="54" height="48"/><text class="f" x="432" y="627">124.725</text><text class="f" x="432" y="642">128.600</text><text class="f" x="432" y="657">134.300</text>
<rect class="bx" x="282" y="702" width="57" height="20"/><text class="nm" x="310.5" y="717">Moncton</text>
<rect class="bx" x="287" y="722" width="41" height="20"/><text class="big" x="307.5" y="737">CZQM</text>
<rect class="tn" x="286" y="742" width="35" height="14"/><text class="tt" x="303.5" y="753">45’-15’</text>
<rect class="bx" x="398" y="692" width="55" height="64"/><text class="f" x="425.5" y="707">124.175</text><text class="f" x="425.5" y="722">125.900</text><text class="f" x="425.5" y="737">132.600</text><text class="f" x="425.5" y="752">133.900</text>
<rect class="bx" x="438" y="783" width="54" height="48"/><text class="f" x="465" y="798">128.175</text><text class="f" x="465" y="813">132.050</text><text class="f" x="465" y="828">134.700</text>
<rect class="bx" x="534" y="336" width="54" height="19"/><text class="f" x="561" y="351">123.750</text>
<rect class="bx" x="540" y="408" width="53" height="33"/><text class="f" x="566.5" y="423">126.700</text><text class="f" x="566.5" y="438">127.100</text>
<rect class="bx" x="579" y="200" width="53" height="19"/><text class="f" x="605.5" y="215">127.900</text>
<rect class="bx" x="669" y="103" width="55" height="49"/><text class="f" x="696.5" y="118">124.400</text><text class="fg" x="696.5" y="132">127.500</text><text class="fg" x="696.5" y="147">128.200</text>
<rect class="bx" x="806" y="86" width="79" height="21"/><text class="nm" x="845.5" y="102">Iceland (OC)</text>
<rect class="bx" x="861" y="111" width="43" height="94"/><text class="nl" x="882.5" y="126">NAT D</text><text class="f" x="882.5" y="141">11279</text><text class="f" x="882.5" y="156">8891</text><text class="f" x="882.5" y="170">4675</text><text class="fg" x="882.5" y="185">13291</text><text class="fg" x="882.5" y="200">2971</text>
<rect class="bx" x="937" y="58" width="55" height="63"/><text class="nl" x="964.5" y="73">Reykjavik</text><text class="f" x="964.5" y="88">126.550</text><text class="f" x="964.5" y="102">129.625</text><text class="f" x="964.5" y="117">129.900</text>
<rect class="bk" x="615" y="174" width="18" height="14"/><text class="tt" x="624" y="185">KU</text>
<rect class="bk" x="828" y="135" width="18" height="13"/><text class="tt" x="837" y="146">DA</text>
<rect class="bk" x="1039" y="172" width="19" height="13"/><text class="tt" x="1048.5" y="183">VM</text>
<rect class="bk" x="738" y="331" width="25" height="14"/><text class="tt" x="750.5" y="342">OZN</text>
<rect class="bx" x="1098" y="174" width="54" height="48"/><text class="f" x="1125" y="189">133.100</text><text class="f" x="1125" y="204">134.300</text><text class="f" x="1125" y="218">135.250</text>
<rect class="bx" x="1275" y="212" width="54" height="19"/><text class="f" x="1302" y="227">133.675</text>
<rect class="bx" x="1361" y="176" width="54" height="18"/><text class="f" x="1388" y="190.5">134.850</text>
<rect class="bx" x="1440" y="174" width="54" height="18"/><text class="nm" x="1467" y="188.5">Scottish</text>
<rect class="bx" x="1443" y="198" width="40" height="19"/><text class="big" x="1463" y="213">EGPX</text>
<rect class="tn" x="1443" y="217" width="30" height="16"/><text class="tt" x="1458" y="229">&gt; 15’</text>
<rect class="bx" x="1284" y="337" width="53" height="17"/><text class="f" x="1310.5" y="351">122.980</text>
<rect class="bx" x="1303" y="360" width="54" height="34"/><text class="f" x="1330" y="375">131.150</text><text class="f" x="1330" y="390">134.260</text>
<rect class="bx" x="1096" y="371" width="54" height="33"/><text class="f" x="1123" y="386">127.900</text><text class="f" x="1123" y="400">124.175</text>
<rect class="bx" x="1306" y="408" width="58" height="19"/><text class="nm" x="1335" y="423">Shannon</text>
<rect class="bk" x="1296" y="257" width="25" height="15"/><text x="1308.5" y="269" style="font-size:12.5px;text-anchor:middle">BEN</text>
<rect class="bk" x="1319" y="289" width="22" height="14"/><text x="1330" y="300.5" style="font-size:12.5px;text-anchor:middle">TIR</text>
<rect class="bx" x="1454" y="438" width="51" height="18"/><text class="nm" x="1479.5" y="452">London</text>
<rect class="bx" x="1471" y="461" width="37" height="19"/><text class="big" x="1489.5" y="476">EGTT</text>
<rect class="tn" x="1471" y="480" width="29" height="15"/><text class="tt" x="1485.5" y="491.5">&gt; 15’</text>
<rect class="bx" x="1347" y="489" width="34" height="18"/><text class="big" x="1364" y="504">EISN</text>
<rect class="tn" x="1347" y="507" width="34" height="16"/><text class="tt" x="1364" y="519">&gt; 5’ A</text>
<rect class="bx" x="1372" y="527" width="54" height="18"/><text class="f" x="1399" y="541.5">135.600</text>
<rect class="bx" x="1475" y="537" width="44" height="20"/><text class="nm" x="1497" y="552">Brest</text>
<rect class="bx" x="1110" y="519" width="93" height="22"/><text class="nm" x="1156.5" y="535">Shanwick (OC)</text>
<rect class="bx" x="683" y="513" width="77" height="21"/><text class="nm" x="721.5" y="529">Gander (OC)</text>
<rect class="bx" x="563" y="519" width="54" height="33"/><text class="f" x="590" y="534">122.375</text><text class="f" x="590" y="549">126.900</text>
<rect class="bx" x="699" y="548" width="44" height="79"/><text class="nl" x="721" y="564">NAT B</text><text class="f" x="721" y="578.5">8864</text><text class="f" x="721" y="593">5616</text><text class="f" x="721" y="608">2899</text><text class="fg" x="721" y="622">13291</text>
<rect class="bx" x="893" y="527" width="38" height="60"/><text class="nl" x="912" y="540">NAT F</text><text class="f" x="912" y="554">6622</text><text class="fg" x="912" y="569">8831</text><text class="fg" x="912" y="583">3476</text>
<rect class="bx" x="1003" y="509" width="43" height="93"/><text class="nl" x="1024.5" y="523">NAT C</text><text class="f" x="1024.5" y="538">8879</text><text class="f" x="1024.5" y="552">5649</text><text class="f" x="1024.5" y="567">2872</text><text class="fg" x="1024.5" y="582">13306</text><text class="fg" x="1024.5" y="597">11336</text>
<rect class="bx" x="1223" y="664" width="54" height="34"/><text class="f" x="1250" y="679">127.900</text><text class="f" x="1250" y="694">124.175</text>
<rect class="bx" x="1466" y="718" width="48" height="20"/><text class="nm" x="1490" y="733">Madrid</text>
<rect class="bx" x="652" y="887" width="91" height="22"/><text class="nm" x="697.5" y="903">New York (OC)</text>
<rect class="bx" x="674" y="914" width="44" height="94"/><text class="nl" x="696" y="929">NAT E</text><text class="f" x="696" y="944">13354</text><text class="f" x="696" y="959">8825</text><text class="f" x="696" y="973">6628</text><text class="fg" x="696" y="988">11309</text><text class="fg" x="696" y="1003">2962</text>
<rect class="bx" x="875" y="877" width="44" height="78"/><text class="nl" x="897" y="891">NAT A</text><text class="f" x="897" y="906">13306</text><text class="f" x="897" y="921">8906</text><text class="f" x="897" y="936">5598</text><text class="fg" x="897" y="950">3016</text>
<rect class="bx" x="966" y="905" width="105" height="23"/><text class="nm" x="1018.5" y="921">Santa Maria (OC)</text>

<!-- Gander OCA panel -->
<rect x="52" y="41" width="208" height="215" fill="#fff" stroke="#c29b67" stroke-width="2"/>
<rect x="52" y="41" width="208" height="18" fill="#c29b67"/>
<text class="hd" x="156" y="54.5">Gander OCA</text>
<text class="pb" x="58" y="72">CZQX</text><text class="p" x="120" y="72">25-10’</text><text class="p" x="167" y="72">A / C / F</text>
<text class="p" x="64" y="87">RCL</text><text class="p" x="120" y="87">90-30’</text>
<text class="p" x="64" y="102">LOGON</text><text class="p" x="142" y="102">C/u</text><text class="p" x="167" y="102">if FT&lt;45’ to OEP</text>
<text class="pb" x="58" y="120">Fly CUR FPL or AS AMD by ATC</text>
<rect x="54" y="128" width="204" height="15" fill="#e4e4e4"/>
<text class="p" x="58" y="140">if no DL / ETA(OEP)&lt;30’ / No resp wi 15’</text>
<text class="p" x="64" y="156">Gander</text>
<text class="p" x="120" y="156">132.025</text><text class="p" x="167" y="156">AVPUT to LIBOR</text>
<text class="p" x="120" y="171">134.200</text><text class="p" x="167" y="171">MAXAR to VESMI</text>
<text class="p" x="120" y="186">128.700</text><text class="p" x="167" y="186">AVUTI to JANJO</text>
<text class="p" x="120" y="202">135.450</text><text class="p" x="167" y="202">KODIK to TUDEP</text>
<text class="p" x="120" y="217">135.050</text><text class="p" x="167" y="217">UMESI to JOOPY</text>
<text class="p" x="120" y="232">128.450</text><text class="p" x="167" y="232">MUSAK to SUPRY</text>
<text class="p" x="120" y="247">119.425</text><text class="p" x="167" y="247">RAFIN to TALGO</text>

<!-- New York OCA -->
<rect x="52" y="265" width="208" height="103" fill="#fff" stroke="#c29b67" stroke-width="2"/>
<rect x="52" y="265" width="208" height="18" fill="#c29b67"/>
<text class="hd" x="156" y="278.5">New York OCA</text>
<text class="pb" x="58" y="298">KZWY</text><text class="p" x="120" y="298">25-10’</text><text class="p" x="167" y="298">A / C / -</text>
<text class="p" x="64" y="313">RCL</text><text class="p" x="120" y="313">N/R</text>
<text class="p" x="58" y="331">ACFT entering KZWY from an FAA facility</text>
<text class="p" x="62" y="346">- ROUTING by CLR DLV at DEP AP</text>
<text class="p" x="62" y="361">- ALT + SPD by local FAA ATC prior entry</text>

<!-- Airport list -->
<rect x="52" y="470" width="208" height="407" fill="#fff" stroke="#1d4c84" stroke-width="2"/>
<rect x="52" y="470" width="208" height="18" fill="#1d4c84"/>
<text x="156" y="483.5" style="font-size:13px;fill:#fff;text-anchor:middle">Airport List</text>
<g fill="#e8e8e8">
<rect x="54" y="489" width="101" height="14.85"/><rect x="54" y="518.7" width="101" height="14.85"/><rect x="54" y="548.4" width="101" height="14.85"/><rect x="54" y="592.95" width="101" height="14.85"/><rect x="54" y="622.65" width="101" height="14.85"/><rect x="54" y="652.35" width="101" height="14.85"/><rect x="54" y="696.9" width="101" height="14.85"/><rect x="54" y="741.45" width="101" height="14.85"/><rect x="54" y="786" width="101" height="14.85"/><rect x="54" y="830.55" width="101" height="14.85"/>
<rect x="157" y="489" width="101" height="14.85"/><rect x="157" y="518.7" width="101" height="14.85"/><rect x="157" y="563.25" width="101" height="14.85"/><rect x="157" y="592.95" width="101" height="14.85"/><rect x="157" y="622.65" width="101" height="14.85"/><rect x="157" y="682.05" width="101" height="14.85"/><rect x="157" y="711.75" width="101" height="14.85"/><rect x="157" y="741.45" width="101" height="14.85"/><rect x="157" y="771.15" width="101" height="14.85"/>
</g>
<line x1="155.5" y1="488" x2="155.5" y2="876" stroke="#1d4c84" stroke-width="2"/>
<g class="al">
<text class="alb" x="56" y="500.3">BGBW</text><text x="97" y="500.3">5!</text><text class="ale" x="151" y="500.3">21W</text>
<text x="58" y="515.2">06</text><text x="81" y="515.2">R</text><text x="90" y="515.2">18•18</text><text x="128" y="515.2">C</text><text class="ale" x="151" y="515.2">24</text>
<text class="alb" x="56" y="530">BGSF</text><text x="97" y="530">5!</text><text class="ale" x="151" y="530">27W</text>
<text x="58" y="544.9">09</text><text x="81" y="544.9">L</text><text x="90" y="544.9">28•28</text><text x="128" y="544.9">C</text><text class="ale" x="151" y="544.9">27</text>
<text class="alb" x="56" y="559.7" style="fill:#d92b2b">BIKF</text><text x="97" y="559.7">9!</text><text class="ale" x="151" y="559.7">12W</text>
<text x="58" y="574.6">01</text><text x="81" y="574.6">1</text><text x="90" y="574.6">30•30</text><text x="128" y="574.6">2</text><text class="ale" x="151" y="574.6">19</text>
<text x="58" y="589.4">10</text><text x="81" y="589.4">2</text><text x="90" y="589.4">30•30</text><text x="128" y="589.4">1</text><text class="ale" x="151" y="589.4">28</text>
<text class="alb" x="56" y="604.3">CYFB</text><text x="97" y="604.3">5!</text><text class="ale" x="151" y="604.3">25W</text>
<text x="58" y="619.1">16</text><text x="81" y="619.1">R</text><text x="90" y="619.1">26•26</text><text x="128" y="619.1">1</text><text class="ale" x="151" y="619.1">34</text>
<text class="alb" x="56" y="634">CYJT</text><text x="97" y="634">6!</text><text class="ale" x="151" y="634">18W</text>
<text x="58" y="648.8">09</text><text x="81" y="648.8">B</text><text x="90" y="648.8">30•30</text><text x="128" y="648.8">1</text><text class="ale" x="151" y="648.8">27</text>
<text class="alb" x="56" y="663.7">CYQX</text><text x="97" y="663.7">7!</text><text class="ale" x="151" y="663.7">18W</text>
<text x="58" y="678.5">03</text><text x="81" y="678.5">R</text><text x="90" y="678.5">31•31</text><text x="128" y="678.5">R</text><text class="ale" x="151" y="678.5">21</text>
<text x="58" y="693.4">13</text><text x="81" y="693.4">1</text><text x="90" y="693.4">27•27</text><text x="128" y="693.4">R</text><text class="ale" x="151" y="693.4">31</text>
<text class="alb" x="56" y="708.2">CYYR</text><text x="97" y="708.2">7</text><text class="ale" x="151" y="708.2">20W</text>
<text x="58" y="723.1">08</text><text x="81" y="723.1">1</text><text x="90" y="723.1">33•33</text><text x="128" y="723.1">R</text><text class="ale" x="151" y="723.1">26</text>
<text x="58" y="737.9">15</text><text x="81" y="737.9">R</text><text x="90" y="737.9">29•29</text><text x="128" y="737.9">R</text><text class="ale" x="151" y="737.9">33</text>
<text class="alb" x="56" y="752.8" style="fill:#d92b2b">CYYT</text><text x="97" y="752.8">7!</text><text class="ale" x="151" y="752.8">17W</text>
<text x="58" y="767.6">10</text><text x="81" y="767.6">3</text><text x="90" y="767.6">25•25</text><text x="128" y="767.6">3</text><text class="ale" x="151" y="767.6">28</text>
<text x="58" y="782.5">16</text><text x="81" y="782.5">1</text><text x="90" y="782.5">21•21</text><text x="128" y="782.5">R</text><text class="ale" x="151" y="782.5">34</text>
<text class="alb" x="56" y="797.3">EGAA</text><text x="97" y="797.3">7</text>
<text x="58" y="812.2">07</text><text x="81" y="812.2">R</text><text x="90" y="812.2">27•27</text><text x="128" y="812.2">3</text><text class="ale" x="151" y="812.2">25</text>
<text x="58" y="827">17</text><text x="81" y="827">1</text><text x="90" y="827">17•17</text><text x="128" y="827">V</text><text class="ale" x="151" y="827">35</text>
<text class="alb" x="56" y="841.9" style="fill:#d92b2b">EGCC</text><text x="97" y="841.9">10</text>
<text x="58" y="856.7">05L</text><text x="79" y="856.7">3</text><text x="88" y="856.7">25•27</text><text x="122" y="856.7">3</text><text class="ale" x="151" y="856.7">23R</text>
<text x="58" y="871.6">05R</text><text x="79" y="871.6">1</text><text x="88" y="871.6">28•28</text><text x="122" y="871.6">R</text><text class="ale" x="151" y="871.6">23L</text>
<text class="alb" x="159" y="500.3">EGPF</text><text x="202" y="500.3">9!</text>
<text x="162" y="515.2">05</text><text x="183" y="515.2">3</text><text x="194" y="515.2">26•23</text><text x="230" y="515.2">3</text><text class="ale" x="257" y="515.2">23</text>
<text class="alb" x="159" y="530">EGPK</text><text x="202" y="530">9</text>
<text x="162" y="544.9">03</text><text x="183" y="544.9">-</text><text x="194" y="544.9">18•19</text><text x="230" y="544.9">R</text><text class="ale" x="257" y="544.9">21</text>
<text x="162" y="559.7">12</text><text x="183" y="559.7">1</text><text x="194" y="559.7">27•29</text><text x="230" y="559.7">1</text><text class="ale" x="257" y="559.7">30</text>
<text class="alb" x="159" y="574.6">EGPO</text><text x="202" y="574.6">4!</text>
<text x="162" y="589.4">18</text><text x="183" y="589.4">L</text><text x="194" y="589.4">20•20</text><text x="230" y="589.4">L</text><text class="ale" x="257" y="589.4">36</text>
<text class="alb" x="159" y="604.3">EICK</text><text x="202" y="604.3">7</text>
<text x="162" y="619.1">16</text><text x="183" y="619.1">2</text><text x="194" y="619.1">21•21</text><text x="230" y="619.1">1</text><text class="ale" x="257" y="619.1">34</text>
<text class="alb" x="159" y="634" style="fill:#d92b2b">EIDW</text><text x="202" y="634">9</text>
<text x="160" y="648.8">10L</text><text x="181" y="648.8">3</text><text x="190" y="648.8">28•26</text><text x="228" y="648.8">3</text><text class="ale" x="257" y="648.8">28R</text>
<text x="160" y="663.7">10R</text><text x="181" y="663.7">3</text><text x="190" y="663.7">26•26</text><text x="228" y="663.7">3</text><text class="ale" x="257" y="663.7">28L</text>
<text x="162" y="678.5">16</text><text x="183" y="678.5">1</text><text x="194" y="678.5">20•20</text><text x="230" y="678.5">R</text><text class="ale" x="257" y="678.5">34</text>
<text class="alb" x="159" y="693.4">EINN</text><text x="202" y="693.4">9</text>
<text x="162" y="708.2">06</text><text x="183" y="708.2">1</text><text x="194" y="708.2">31•30</text><text x="230" y="708.2">2</text><text class="ale" x="257" y="708.2">24</text>
<text class="alb" x="159" y="723.1">LPAZ</text><text x="202" y="723.1">6!</text>
<text x="162" y="737.9">18</text><text x="183" y="737.9">1</text><text x="194" y="737.9">30•30</text><text x="230" y="737.9">R</text><text class="ale" x="257" y="737.9">36</text>
<text class="alb" x="159" y="752.8">LPLA</text><text x="202" y="752.8">8</text>
<text x="162" y="767.6">15</text><text x="183" y="767.6">1</text><text x="194" y="767.6">33•33</text><text x="230" y="767.6">1</text><text class="ale" x="257" y="767.6">33</text>
<text class="alb" x="159" y="782.5">LPPD</text><text x="202" y="782.5">7!</text>
<text x="162" y="797.3">12</text><text x="183" y="797.3">R</text><text x="194" y="797.3">23•22</text><text x="230" y="797.3">1</text><text class="ale" x="257" y="797.3">30</text>
</g>

<!-- Apollodor panel -->
<rect x="52" y="893" width="207" height="82" fill="#efe8dc" stroke="#8f8f8f" stroke-width="2"/>
<circle cx="75" cy="918" r="16" fill="#e8e8e8" stroke="#9a9a9a" stroke-width="3" stroke-dasharray="2 1.5"/>
<circle cx="75" cy="918" r="9" fill="#1f4e86"/>
<path d="M70.5,922.5L75,912L79.5,922.5L77.3,922.5L75,917L72.7,922.5Z" fill="#fff"/>
<text class="ns" x="98" y="921" style="font-size:19px;font-weight:bold;fill:#1f4470;letter-spacing:0.6px">APOLLODOR<tspan font-size="8" dy="-7">®</tspan></text>
<text class="ns" x="98" y="935" style="font-size:9.5px;fill:#777;letter-spacing:2.4px">PLANNING CHARTS</text>
<rect x="52" y="975" width="207" height="158" fill="#fff" stroke="#8f8f8f" stroke-width="2"/>
<rect x="53" y="976" width="205" height="75" fill="#e6f3fb"/>
<g fill="#fff" stroke="#b9dcf3" stroke-width="0.8">
<path d="M56,1000Q70,985 95,990L110,1000L118,1020L105,1040L85,1050L58,1050Z"/>
<path d="M112,985L128,980L135,992L124,1000Z"/>
<path d="M140,1000L170,985L210,982L250,990L257,1000L257,1050L175,1050L160,1035L150,1020Z"/>
</g>
<path d="M98,1004Q128,986 157,1004L143,1026Q127,1021 110,1026Z" fill="none" stroke="#1f4470" stroke-width="2.5"/>
<text x="58" y="1067" style="font-size:12px;font-weight:bold">TMI 348 DEC13/1130Z TO DEC13/1900Z</text>
<text x="58" y="1080" style="font-size:10.5px;fill:#333">Chart generated: 2024-12-12 14:45:15 UTC (01)</text>
<rect x="53" y="1089" width="205" height="23" fill="#1d4c84"/>
<text x="58" y="1106" style="font-size:13px;font-weight:bold;fill:#fff">ALERTS CURRENT OPTIONAL DATA</text>
<text x="58" y="1130" style="font-size:13px;font-weight:bold">ALERTS</text>

<!-- NAT R/T panel -->
<rect x="273" y="1030" width="247" height="104" fill="#fff" stroke="#c29b67" stroke-width="2"/>
<rect x="273" y="1030" width="247" height="19" fill="#c29b67"/>
<text x="396" y="1045" style="font-size:13px;font-weight:bold;text-anchor:middle">NAT R/T procedure for datalink A/C</text>
<text class="p" x="278" y="1066">OCA radio station</text><text class="pb" x="431" y="1066">&lt;Shanwick&gt;</text>
<text class="p" x="278" y="1081">Callsign</text><text class="pb" x="431" y="1081">&lt;Airline 123&gt;</text>
<text class="p" x="278" y="1096">SELCAL</text><text class="pb" x="431" y="1096">SELCAL check</text>
<text class="p" x="278" y="1111">next OCA (omit for DOMESTIC)</text><text class="pb" x="431" y="1111">&lt;Gander&gt; next</text>
<text x="278" y="1126" style="font-size:11px;fill:#222">No need to transmit SELCAL code or FANS capability</text>

<!-- Basic NAT Procedures -->
<rect x="533" y="1033" width="186" height="101" fill="#fff" stroke="#1d4c84" stroke-width="2"/>
<rect x="533" y="1033" width="186" height="18" fill="#1d4c84"/>
<text x="626" y="1047" style="font-size:13px;fill:#fff;text-anchor:middle">Basic NAT Procedures</text>
<text class="pb" x="536" y="1063">SELCAL</text><text class="pe" x="716" y="1063">check/watch</text>
<text class="pb" x="536" y="1075.5">121.500</text><text class="pe" x="716" y="1075.5">monitor CONT</text>
<text class="pb" x="536" y="1089">SLOP (0/1/2 NM R)</text><text class="pe" x="716" y="1089">AFT entry</text>
<text class="pb" x="536" y="1102">123.450 (Air-2-Air)</text><text class="pe" x="716" y="1102">if no VHF-ATC</text>
<text class="pb" x="536" y="1115">SQWK 2000</text><text class="pe" x="716" y="1115">10’ AFT entry</text>
<text class="pb" x="536" y="1128">Revise ETO</text><text class="pe" x="716" y="1128">if chng &gt; 2’ &amp; no ADS-C</text>

<!-- STO Radio -->
<rect x="730" y="1026" width="44" height="107" fill="#fff" stroke="#c29b67" stroke-width="2"/>
<text class="nl" x="752" y="1040">STO</text><text class="nl" x="752" y="1055">Radio</text>
<text class="f" x="752" y="1069">17916</text><text class="f" x="752" y="1084">13342</text><text class="f" x="752" y="1099">11345</text><text class="f" x="752" y="1113">8930</text><text class="f" x="752" y="1128">5541</text>

<!-- Santa Maria OCA -->
<rect x="810" y="1016" width="208" height="118" fill="#fff" stroke="#c29b67" stroke-width="2"/>
<rect x="810" y="1016" width="208" height="18" fill="#c29b67"/>
<text class="hd" x="914" y="1029.5">Santa Maria OCA</text>
<text class="pb" x="816" y="1048">LPPO</text><text class="p" x="881" y="1048">25-10’</text><text class="p" x="932" y="1048">A / C / -</text>
<text class="p" x="822" y="1062">RCL</text><text class="p" x="881" y="1062">&gt;40’</text>
<text class="pb" x="816" y="1077">Fly CUR FPL or AS AMD by ATC</text>
<rect x="812" y="1084" width="204" height="15" fill="#e4e4e4"/>
<text class="p" x="816" y="1096">if no DL / ETA(OEP)&lt;30’ / No resp wi 15’</text>
<text class="p" x="822" y="1111">Sta Maria R</text><text class="p" x="881" y="1111">132.075</text><text class="p" x="938" y="1111">(127.900)</text>
<text class="p" x="881" y="1126">HF NAT A</text><text class="p" x="938" y="1126">(backup)</text>

<!-- Reykjavik OCA -->
<rect x="1087" y="41" width="209" height="117" fill="#fff" stroke="#c29b67" stroke-width="2"/>
<rect x="1087" y="41" width="209" height="18" fill="#c29b67"/>
<text class="hd" x="1191.5" y="54.5">Reykjavik OCA</text>
<text class="pb" x="1093" y="73">BIRD</text><text class="p" x="1159" y="73">25-10’</text><text class="p" x="1216" y="73">A / C / F</text>
<text class="p" x="1099" y="88">RCL</text><text class="p" x="1159" y="88">&gt; 20’</text>
<text class="pb" x="1093" y="103">Fly CUR FPL or AS AMD by ATC</text>
<rect x="1089" y="109" width="205" height="15" fill="#e4e4e4"/>
<text class="p" x="1093" y="121">if no DL / ETA(OEP)&lt;0’ / No resp wi 15’</text>
<text class="p" x="1099" y="136">Iceland R</text><text class="p" x="1159" y="136">127.850</text><text class="p" x="1216" y="136">(129.625)</text>
<text class="p" x="1159" y="152">HF NAT D</text><text class="p" x="1216" y="152">(backup)</text>

<!-- Shanwick OCA -->
<rect x="1308" y="41" width="208" height="129" fill="#fff" stroke="#c29b67" stroke-width="2"/>
<rect x="1308" y="41" width="208" height="18" fill="#c29b67"/>
<text class="hd" x="1412" y="54.5">Shanwick OCA</text>
<text class="pb" x="1313" y="73">EGGX</text><text class="p" x="1384" y="73">25-10’</text><text class="p" x="1440" y="73">A / C / F</text>
<text class="p" x="1319" y="88">RCL</text><text class="p" x="1384" y="88">90-30’</text>
<rect x="1310" y="92" width="204" height="15" fill="#e4e4e4"/>
<text class="p" x="1313" y="103">if no DL / ETA(OEP)&lt;30’ / No resp wi 15’</text>
<text class="p" x="1319" y="118">Shanwick OC</text><text class="p" x="1384" y="118">123.950</text><text class="pe" x="1513" y="118">N of 15W</text>
<text class="p" x="1384" y="133">127.650</text><text class="pe" x="1513" y="133">S of 15W</text>
<text class="p" x="1319" y="148">Shanwick R</text><text class="p" x="1384" y="148">(127.900)(backup)</text>
<text class="pb" x="1313" y="164">NO ENTRY WITHOUT CLR</text>

<!-- Contingencies -->
<rect x="1191" y="835" width="325" height="298" fill="#fff" stroke="#d93b2e" stroke-width="2.5"/>
<rect x="1191" y="835" width="325" height="20" fill="#d93b2e"/>
<text x="1353" y="850" style="font-size:13px;fill:#fff;text-anchor:middle">Oceanic In-Flight Contingencies</text>
<text class="ns" x="1197" y="871" style="font-size:12.5px;font-weight:bold" textLength="312" lengthAdjust="spacingAndGlyphs">Obtain ATC Clearance ("MAYDAY" or "WX DEVIATION RQD")</text>
<rect x="1197" y="878" width="313" height="15" fill="#e4e4e4"/>
<text class="pb" x="1198" y="890">- if no clearance</text>
<text class="pb" x="1210" y="906">Watch for traffic</text><text class="pe" x="1498" y="906">Visual / TCAS</text>
<text class="pb" x="1210" y="920">Exterior lights</text><text class="pe" x="1498" y="920">On</text>
<text class="pb" x="1210" y="935">Broadcast position + intention</text><text class="pe" x="1497" y="935">On 121.500 / 123.450</text>
<text class="pb" x="1210" y="949">Transponder</text><text class="pe" x="1498" y="949">Squawk 7700</text>
<rect x="1208" y="956" width="302" height="15" fill="#e4e4e4"/>
<text x="1210" y="968" style="font-size:12px"><tspan font-weight="bold">- Special Procedures</tspan> (non-weather)</text>
<text class="p" x="1228" y="986">Leave cleared route</text><text class="p" x="1357" y="986">At least 30° turn L/R</text>
<text class="p" x="1228" y="1001">Intercept and maintain</text><text class="p" x="1357" y="1001">5.0 NM parallel offset</text>
<text class="p" x="1228" y="1016">Maintain FL (if able)</text><text class="p" x="1357" y="1016">Until established</text>
<text class="p" x="1228" y="1031">Establish vertical offset</text><text class="p" x="1357" y="1031">500 ft (1000 ft if &gt; FL410)</text>
<rect x="1224" y="1035" width="286" height="15" fill="#e4e4e4"/>
<text class="p" x="1226" y="1047">- Descent desired / required</text>
<text class="p" x="1242" y="1061">Descent below FL290</text><text class="p" x="1365" y="1061">to reduce likelihood of conflict</text>
<rect x="1208" y="1065" width="302" height="15" fill="#e4e4e4"/>
<text x="1210" y="1077" style="font-size:12px"><tspan font-weight="bold">- Weather Deviation</tspan> (adverse meteorological conditions)</text>
<text class="p" x="1290" y="1094">TRACK</text><text class="p" x="1364" y="1094">LEFT</text><text class="p" x="1430" y="1094">RIGHT</text>
<rect x="1224" y="1098" width="65" height="33" fill="#e4e4e4"/>
<text class="p" x="1226" y="1109">- if deviation</text><text class="p" x="1290" y="1109">000° - 179°</text><text class="p" x="1364" y="1109">DES 300 ft</text>
<text class="p" x="1226" y="1124">&gt; 5.0 NM</text><text class="p" x="1290" y="1124">180° - 359°</text><text class="p" x="1364" y="1124">CLB 300 ft</text>

<!-- frame -->
<rect x="38.5" y="28" width="1489.5" height="1119" fill="none" stroke="#8a8a8a" stroke-width="2.5"/>
<path stroke="#666" stroke-width="1" fill="none" d="M50,22v6M76,22v6M102,22v6M128,22v6M154,22v6M180,22v6M206,22v6M232,22v6M258,22v6M284,22v6M310,22v6M336,22v6M362,22v6M388,22v6M414,22v6M440,22v6M466,22v6M492,22v6M544,22v6M570,22v6M596,22v6M622,22v6M674,22v6M700,22v6M726,22v6M752,22v6M804,22v6M830,22v6M856,22v6M882,22v6M930,22v6M956,22v6M982,22v6M1008,22v6M1060,22v6M1086,22v6M1112,22v6M1138,22v6M1160,22v6M1206,22v6M1232,22v6M1258,22v6M1284,22v6M1310,22v6M1364,22v6M1390,22v6M1416,22v6M1442,22v6M1468,22v6M1494,22v6M1520,22v6M213,18v10M375,18v10M519,18v10M651,18v10M779,18v10M905,18v10M1036,18v10M1180,18v10M1339,18v10M60,1147v6M90,1147v6M120,1147v6M150,1147v6M180,1147v6M210,1147v6M260,1147v6M290,1147v6M320,1147v6M350,1147v6M380,1147v6M410,1147v6M440,1147v6M470,1147v6M540,1147v6M570,1147v6M600,1147v6M630,1147v6M660,1147v6M690,1147v6M720,1147v6M750,1147v6M810,1147v6M840,1147v6M870,1147v6M900,1147v6M930,1147v6M960,1147v6M990,1147v6M1020,1147v6M1080,1147v6M1110,1147v6M1140,1147v6M1170,1147v6M1200,1147v6M1230,1147v6M1260,1147v6M1290,1147v6M1360,1147v6M1390,1147v6M1420,1147v6M1450,1147v6M1480,1147v6M1510,1147v6M230,1147v10M510,1147v10M779,1147v10M1049,1147v10M1330,1147v10M32,70h6M32,130h6M32,190h6M32,250h6M32,310h6M32,370h6M32,430h6M32,500h6M32,560h6M32,620h6M32,680h6M32,740h6M32,800h6M32,900h6M32,960h6M32,1020h6M32,1080h6M32,1130h6M1528,70h6M1528,130h6M1528,190h6M1528,250h6M1528,310h6M1528,370h6M1528,430h6M1528,500h6M1528,560h6M1528,620h6M1528,680h6M1528,740h6M1528,800h6M1528,900h6M1528,960h6M1528,1020h6M1528,1080h6M1528,1130h6"/>
<g class="ax">
<text x="218" y="19">80°W</text><text x="378" y="19">70°W</text><text x="519" y="19">60°W</text><text x="651" y="19">50°W</text><text x="779" y="19">40°W</text><text x="905" y="19">30°W</text><text x="1036" y="19">20°W</text><text x="1180" y="19">10°W</text><text x="1339" y="19">0°</text>
<text x="230" y="1166">60°W</text><text x="510" y="1166">50°W</text><text x="1049" y="1166">30°W</text><text x="1330" y="1166">20°W</text>
<text transform="translate(31,50) rotate(-90)">60°N</text><text transform="translate(31,465) rotate(-90)">50°N</text><text transform="translate(31,858) rotate(-90)">40°N</text>
<text transform="translate(1538,50) rotate(90)">60°N</text><text transform="translate(1538,458) rotate(90)">50°N</text><text transform="translate(1538,852) rotate(90)">40°N</text>
</g>

<!-- overlays -->
<rect x="67" y="52" width="84" height="83" rx="15" fill="#fff" stroke="#e6e6e6" stroke-width="1"/>
<path d="M118,75L100,94L118,113" fill="none" stroke="#1f4e86" stroke-width="4.5" stroke-linecap="round" stroke-linejoin="round"/>
<rect x="1417" y="52" width="84" height="82" rx="15" fill="#fff" stroke="#e6e6e6" stroke-width="1"/>
<circle cx="1459" cy="80" r="3.2" fill="#1f4e86"/><circle cx="1459" cy="94" r="3.2" fill="#1f4e86"/><circle cx="1459" cy="107" r="3.2" fill="#1f4e86"/>
<rect class="ov" x="764" y="52" width="41" height="64" rx="9"/>
<path d="M784,58L793,77L784,72L775,77Z" fill="#1f4e86"/>
<text class="ovt" x="784" y="106">AT-1</text>
<rect class="ov" x="137" y="556" width="39" height="63" rx="9"/>
<path d="M146,571L164,562L160,571L164,580Z" fill="#1f4e86"/>
<text class="ovt" x="157" y="610">NA-2</text>
<rect class="ov" x="1391" y="556" width="45" height="65" rx="9"/>
<path d="M1424,571L1405,562L1409,571L1405,580Z" fill="#1f4e86"/>
<text class="ovt" x="1413" y="612">EU-2</text>
<rect class="ov" x="763" y="1086" width="42" height="63" rx="9"/>
<text class="ovt" x="784" y="1108">AT-3</text>
<path d="M784,1143L775,1124L784,1129L793,1124Z" fill="#1f4e86"/>

<rect class="btn" x="65" y="1033" width="217" height="33" rx="8"/>
<text class="btt ns" x="77" y="1055">AT-2 North Atlantic (Eastbd.)</text>
<rect class="btn" x="65" y="1075" width="224" height="33" rx="8"/>
<text class="btt ns" x="77" y="1098">AT-2 North Atlantic (Westbd.)</text>
<rect class="btn" x="65" y="1119" width="192" height="32" rx="8"/>
<text class="btt ns" x="77" y="1141">AT-9 Blue Spruce Routes</text>

<rect x="1420" y="1065" width="79" height="83" rx="15" fill="#1a4a80"/>
<path d="M1446,1081L1450,1089H1442Z" fill="none" stroke="#fff" stroke-width="1.5"/>
<rect x="1442.5" y="1093" width="7" height="7" fill="none" stroke="#fff" stroke-width="1.5"/>
<circle cx="1446" cy="1107" r="3.8" fill="none" stroke="#fff" stroke-width="1.5"/>
<path d="M1455,1085.5H1477M1455,1096.5H1477M1455,1107H1477" stroke="#fff" stroke-width="1.5"/>
<text class="ns" x="1459" y="1132" style="font-size:15.5px;font-weight:bold;fill:#fff;text-anchor:middle">Legend</text>

<!-- status bar -->
<text class="ns" x="22" y="24" style="font-size:17.5px;fill:#000">00:42</text>
<text class="ns" x="82" y="24" style="font-size:17.5px;fill:#000">Samstag 14. Dez.</text>
<path d="M1444,14a12,12 0 0 1 17,0M1447,17.5a7.5,7.5 0 0 1 11,0" fill="none" stroke="#000" stroke-width="2.4" stroke-linecap="round"/>
<circle cx="1452.5" cy="21" r="1.9" fill="#000"/>
<text class="ns" x="1468" y="24" style="font-size:16.5px;fill:#000">60 %</text>
<rect x="1513" y="10" width="25" height="14" rx="4" fill="none" stroke="#999" stroke-width="1.3"/>
<rect x="1515.5" y="12.5" width="14" height="9" rx="2" fill="#000"/>
<rect x="1539.5" y="14.5" width="2" height="5" rx="1" fill="#999"/>
<circle cx="773" cy="17" r="3" fill="#999"/><circle cx="781" cy="17" r="3" fill="#999"/><circle cx="789" cy="17" r="3" fill="#999"/>

<!-- home indicator -->
<rect x="575" y="1157" width="418" height="9" rx="4.5" fill="#111"/>
</svg>
</body></html>
